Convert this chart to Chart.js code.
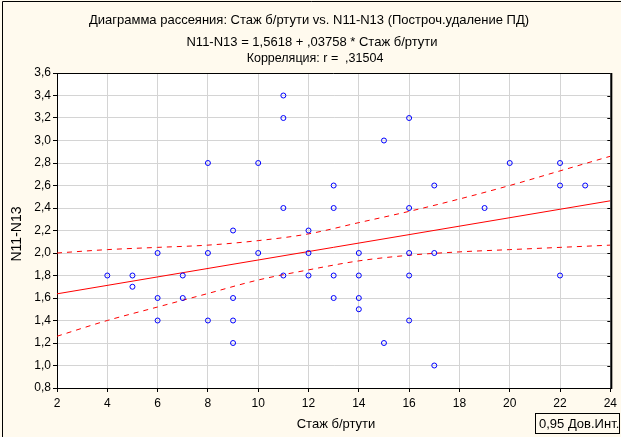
<!DOCTYPE html>
<html>
<head>
<meta charset="utf-8">
<script src="https://cdn.jsdelivr.net/npm/chart.js@4/dist/chart.umd.min.js"></script>
<style>
  body { margin: 0; background: #fffaee; }
  canvas { display: block; }
</style>
</head>
<body>
<canvas id="chart" width="621" height="437"></canvas>
<script>
// scatter: Стаж б/ртути (x) vs N11-N13 (y)
const stazh = [4, 5, 5, 6, 6, 6, 7, 7, 8, 8, 8, 9, 9, 9, 9, 10, 10,
  11, 11, 11, 11, 12, 12, 12, 13, 13, 13, 13, 14, 14, 14, 14, 15, 15,
  16, 16, 16, 16, 16, 17, 17, 17, 19, 20, 22, 22, 22, 23];
const n11n13 = [1.8, 1.8, 1.7, 2.0, 1.6, 1.4, 1.8, 1.6, 2.8, 2.0, 1.4, 2.2, 1.6, 1.4, 1.2, 2.8, 2.0,
  3.4, 3.2, 2.4, 1.8, 2.2, 2.0, 1.8, 2.6, 2.4, 1.8, 1.6, 2.0, 1.8, 1.6, 1.5, 3.0, 1.2,
  3.2, 2.4, 2.0, 1.8, 1.4, 2.6, 2.0, 1.0, 2.4, 2.8, 2.8, 2.6, 1.8, 2.6];

// regression line end points and 0,95 band
const fitX = [2, 24];
const fitY = [1.637, 2.464];
const bandX = [2, 4, 6, 8, 10, 12, 14, 16, 18, 20, 22, 24];
const bandUpper = [2.00, 2.03, 2.05, 2.07, 2.11, 2.17, 2.27, 2.37, 2.48, 2.60, 2.73, 2.86];
const bandLower = [1.26, 1.40, 1.52, 1.64, 1.76, 1.85, 1.93, 1.98, 2.01, 2.03, 2.05, 2.07];

const titleLines = [
  'Диаграмма рассеяния: Стаж б/ртути vs. N11-N13 (Построч.удаление ПД)',
  'N11-N13 = 1,5618 + ,03758 * Стаж б/ртути',
  'Корреляция: r =  ,31504'
];
const xTitle = 'Стаж б/ртути';
const yTitle = 'N11-N13';
const legendText = '0,95 Дов.Инт.';

const FONT = "'Liberation Sans', Arial, sans-serif";

const pts = stazh.map((x, i) => ({x, y: n11n13[i]}));
const fit = fitX.map((x, i) => ({x, y: fitY[i]}));
const upper = bandX.map((x, i) => ({x, y: bandUpper[i]}));
const lower = bandX.map((x, i) => ({x, y: bandLower[i]}));

const decor = {
  id: 'decor',
  beforeDraw(chart) {
    const {ctx, chartArea: a} = chart;
    ctx.save();
    ctx.fillStyle = '#fffaee';
    ctx.fillRect(0, 0, chart.width, chart.height);
    ctx.fillStyle = '#ffffff';
    ctx.fillRect(a.left, a.top, a.right - a.left, a.bottom - a.top);
    ctx.restore();
  },
  afterDraw(chart) {
    const {ctx, chartArea: a} = chart;
    const ys = chart.scales.y;
    ctx.save();
    ctx.strokeStyle = '#000';
    // outer frame
    ctx.lineWidth = 1;
    ctx.beginPath();
    ctx.moveTo(2.5, 437); ctx.lineTo(2.5, 1.5); ctx.lineTo(621, 1.5);
    ctx.stroke();
    // top border + right border with inward ticks
    ctx.beginPath();
    ctx.moveTo(a.left, a.top + 0.5); ctx.lineTo(a.right, a.top + 0.5);
    ctx.stroke();
    ctx.lineWidth = 2;
    ctx.beginPath();
    ctx.moveTo(a.right + 1, a.top); ctx.lineTo(a.right + 1, a.bottom + 1);
    ctx.stroke();
    ctx.lineWidth = 1;
    ys.ticks.forEach((t, i) => {
      const yy = Math.round(ys.getPixelForTick(i)) + 0.5;
      ctx.beginPath();
      ctx.moveTo(a.right - 3, yy); ctx.lineTo(a.right, yy);
      ctx.stroke();
    });

    ctx.fillStyle = '#000';
    ctx.textAlign = 'center';
    ctx.textBaseline = 'middle';
    ctx.font = '13px ' + FONT;
    ctx.fillText(titleLines[0], 309, 20);
    ctx.font = '13px ' + FONT;
    ctx.fillText(titleLines[1], 312, 42);
    ctx.font = '12.5px ' + FONT;
    ctx.fillText(titleLines[2], 315, 59);

    ctx.font = '13px ' + FONT;
    ctx.fillText(xTitle, 336, 424);
    ctx.save();
    ctx.translate(17, 234);
    ctx.rotate(-Math.PI / 2);
    ctx.font = '14px ' + FONT;
    ctx.fillText(yTitle, 0, 0);
    ctx.restore();

    // legend box
    ctx.strokeRect(535.5, 413.5, 84, 20);
    ctx.textAlign = 'left';
    ctx.font = '13px ' + FONT;
    ctx.fillText(legendText, 539, 424);
    ctx.restore();
  }
};

new Chart(document.getElementById('chart'), {
  type: 'scatter',
  data: {
    datasets: [
      {
        data: pts,
        borderColor: '#0000ff',
        backgroundColor: 'rgba(0,0,0,0)',
        borderWidth: 1,
        pointRadius: 2.5,
        pointHoverRadius: 2.5
      },
      {
        type: 'line',
        data: fit,
        borderColor: '#ff0000',
        borderWidth: 1,
        pointRadius: 0,
        fill: false
      },
      {
        type: 'line',
        data: upper,
        borderColor: '#ff0000',
        borderWidth: 1,
        borderDash: [5, 5],
        pointRadius: 0,
        cubicInterpolationMode: 'monotone',
        fill: false
      },
      {
        type: 'line',
        data: lower,
        borderColor: '#ff0000',
        borderWidth: 1,
        borderDash: [5, 5],
        pointRadius: 0,
        cubicInterpolationMode: 'monotone',
        fill: false
      }
    ]
  },
  options: {
    responsive: false,
    animation: false,
    devicePixelRatio: 1,
    layout: {padding: {left: 0, right: 8, top: 73, bottom: 0}},
    plugins: {legend: {display: false}, tooltip: {enabled: false}},
    scales: {
      x: {
        type: 'linear',
        min: 2, max: 24,
        afterFit: s => { s.height = 49; },
        ticks: {stepSize: 2, color: '#000', font: {family: FONT, size: 12}, padding: 4},
        grid: {color: '#d4d4d4', tickColor: '#000', tickLength: 4},
        border: {color: '#000', width: 1}
      },
      y: {
        type: 'linear',
        min: 0.8, max: 3.6,
        afterFit: s => { s.width = 57; },
        ticks: {
          stepSize: 0.2,
          color: '#000',
          font: {family: FONT, size: 12},
          padding: 2,
          callback: v => v.toFixed(1).replace('.', ',')
        },
        grid: {color: '#d4d4d4', tickColor: '#000', tickLength: 4},
        border: {color: '#000', width: 1}
      }
    }
  },
  plugins: [decor]
});
</script>
</body>
</html>
